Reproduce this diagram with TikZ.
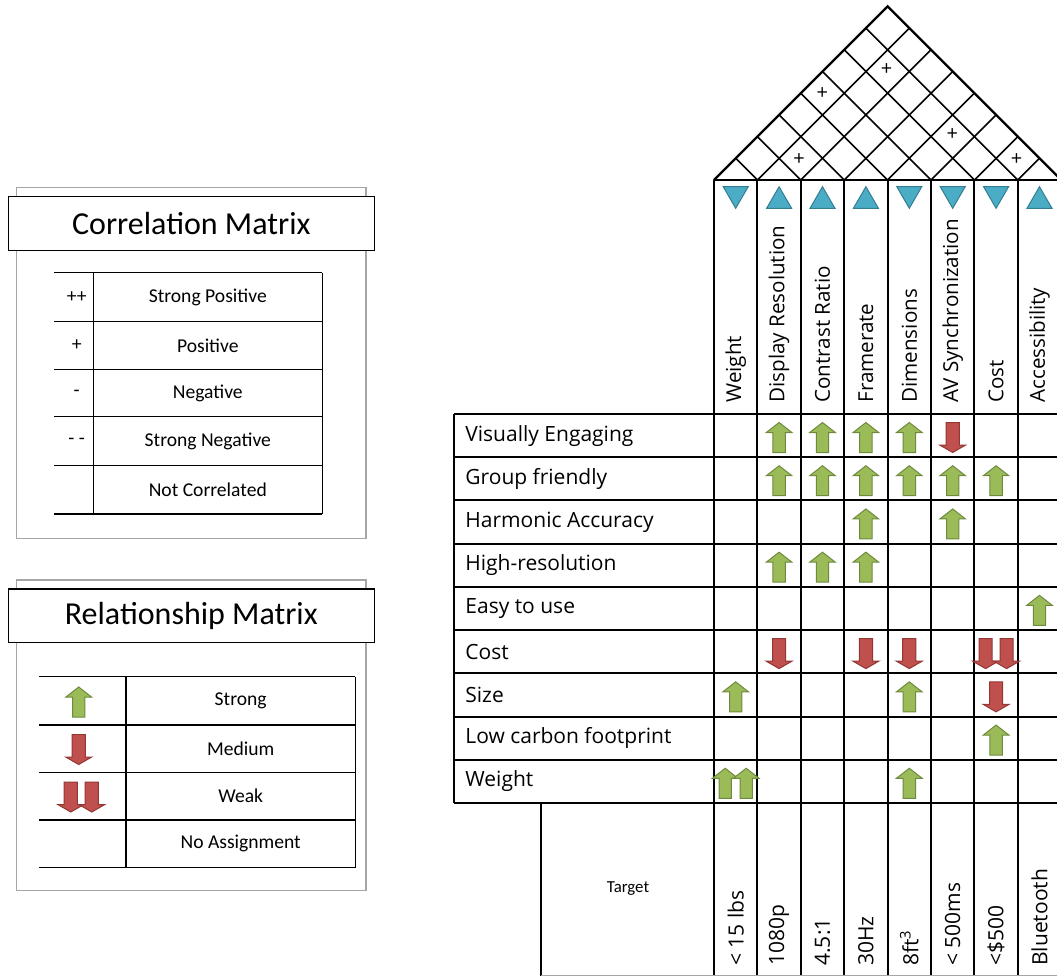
\documentclass[tikz,border=0pt]{standalone}
\usepackage{fontspec}
\setmainfont{Open Sans}
\newfontfamily\legfont{Carlito}
\usetikzlibrary{positioning}
\definecolor{qblue}{HTML}{4BACC6}
\definecolor{qblueline}{HTML}{357D91}
\definecolor{qgreen}{HTML}{9BBB59}
\definecolor{qgreenline}{HTML}{6E8B3D}
\definecolor{qred}{HTML}{C0504D}
\definecolor{qredline}{HTML}{943634}
\definecolor{framegray}{HTML}{A6A6A6}
\tikzset{
	grid/.style={draw=black, line width=1pt},
	roof/.style={draw=black, line width=0.8pt},
	legline/.style={draw=black, line width=0.6pt},
	outerbox/.style={draw=framegray, line width=0.7pt},
	titlebox/.style={draw=black, fill=white, line width=0.7pt},
	rowlabel/.style={anchor=west, inner sep=0, font=\fontsize{10.5}{12}\selectfont},
	collabel/.style={anchor=west, rotate=90, inner sep=0, font=\fontsize{10.3}{12}\selectfont},
	target/.style={anchor=west, rotate=90, inner sep=0, font=\fontsize{10.5}{12}\selectfont},
	corr/.style={font=\fontsize{10}{11}\selectfont, inner sep=0},
	legtitle/.style={font=\legfont\fontsize{16}{19}\selectfont},
	legentry/.style={font=\legfont\fontsize{9.8}{11}\selectfont},
	strong/.pic={\draw[draw=qgreenline, fill=qgreen, line width=0.5pt]
		(0,-15) -- (12.8,-5) -- (6.2,-5) -- (6.2,15) -- (-6.2,15) -- (-6.2,-5) -- (-12.8,-5) -- cycle;},
	medium/.pic={\draw[draw=qredline, fill=qred, line width=0.5pt]
		(0,15) -- (13,7.5) -- (6.6,7.5) -- (6.6,-15) -- (-6.6,-15) -- (-6.6,7.5) -- (-13,7.5) -- cycle;},
	weak/.pic={\pic at (-10.5,0) {medium}; \pic at (10.5,0) {medium};},
	strongpair/.pic={\pic at (-10.5,0) {strong}; \pic at (10.5,0) {strong};},
	better/.pic={\draw[draw=qblueline, fill=qblue, line width=0.5pt] (0,-10.8) -- (12.5,10.8) -- (-12.5,10.8) -- cycle;},
	lower/.pic={\draw[draw=qblueline, fill=qblue, line width=0.5pt] (0,10.8) -- (12.5,-10.8) -- (-12.5,-10.8) -- cycle;}
}
\begin{document}
\begin{tikzpicture}[x=0.5pt, y=-0.5pt]
	\clip (0,0) rectangle (1057,976);

	%%% correlation legend
	\draw[outerbox] (16.7,187.3) rectangle (366,538.3);
	\draw[titlebox] (8.3,196.7) rectangle (374.3,250.7);
	\node[legtitle] (corrtitle) at (191.3,223.7) {Correlation Matrix};
	\foreach \y in {272.7,321.7,369.3,416.7,465.7,514} \draw[legline] (54.3,\y) -- (322.3,\y);
	\draw[legline] (93.3,272.7) -- (93.3,514);
	\draw[legline] (322.3,272.7) -- (322.3,514);
	\node[legentry] (cpp) at (76.7,297.2) {++};
	\node[legentry] (cp) at (76.7,345.5) {+};
	\node[legentry] (cm) at (76.7,393) {-};
	\node[legentry] (cmm) at (76.7,441.2) {- -};
	\node[legentry] (cpptext) at (207.8,297.2) {Strong Positive};
	\node[legentry] (cptext) at (207.8,345.5) {Positive};
	\node[legentry] (cmtext) at (207.8,393) {Negative};
	\node[legentry] (cmmtext) at (207.8,441.2) {Strong Negative};
	\node[legentry] (cnotext) at (207.8,489.8) {Not Correlated};

	%%% relationship legend
	\draw[outerbox] (16.7,580) rectangle (366,890.7);
	\draw[titlebox] (8.3,589) rectangle (374.3,642.7);
	\node[legtitle] (reltitle) at (191.3,615.8) {Relationship Matrix};
	\foreach \y in {676.7,725,772.3,820,867.7} \draw[legline] (39,\y) -- (355.3,\y);
	\draw[legline] (126,676.7) -- (126,867.7);
	\draw[legline] (355.3,676.7) -- (355.3,867.7);
	\pic at (78.7,702) {strong};
	\pic at (78.7,749.5) {medium};
	\pic at (81.3,797) {weak};
	\node[legentry] (rstext) at (240.7,700.8) {Strong};
	\node[legentry] (rmtext) at (240.7,748.7) {Medium};
	\node[legentry] (rwtext) at (240.7,796.2) {Weak};
	\node[legentry] (rntext) at (240.7,843.8) {No Assignment};

	%%% roof
	\draw[grid, line width=1.2pt] (714,180) -- (887.6,6.4) -- (1061.2,180);
	\foreach \i in {1,...,7} {
		\pgfmathsetmacro\bx{714+43.4*\i}
		\draw[roof] (\bx,180) -- ({(714+\bx)/2},{180-(\bx-714)/2});
		\draw[roof] (\bx,180) -- ({(\bx+1061.2)/2},{180-(1061.2-\bx)/2});
	}
	\node[corr] (p12) at (799,159.3) {+};
	\node[corr] (p04) at (822.3,93.3) {+};
	\node[corr] (p16) at (886.7,70) {+};
	\node[corr] (p46) at (952.3,135) {+};
	\node[corr] (p67) at (1016.7,159.3) {+};

	%%% matrix grid
	\draw[grid] (714,180) -- (1061.2,180);
	\foreach \j in {0,...,9} \draw[grid] (454,{414+43.22*\j}) -- (1061.2,{414+43.22*\j});
	\draw[grid] (454,414) -- (454,803);
	\foreach \i in {0,...,8} \draw[grid] ({714+43.4*\i},180) -- ({714+43.4*\i},976);
	\draw[grid] (541,803) -- (541,976);
	\draw[draw=framegray, line width=0.5pt] (541,975.5) -- (1061.2,975.5);

	\foreach \i in {0,...,7} \coordinate (c\i) at ({735.7+43.4*\i},0);
	\foreach \j in {0,...,8} \coordinate (r\j) at (0,{437.5+43.22*\j});

	%%% direction of improvement
	\pic at (735.7,197.5) {lower};
	\pic at (779.1,197.5) {better};
	\pic at (822.5,197.5) {better};
	\pic at (865.9,197.5) {better};
	\pic at (909.3,197.5) {lower};
	\pic at (952.7,197.5) {lower};
	\pic at (996.1,197.5) {lower};
	\pic at (1039.5,197.5) {better};

	%%% engineering characteristics
	\node[collabel] (hweight) at (735.7,403) {Weight};
	\node[collabel] (hres) at (779.1,403) {Display Resolution};
	\node[collabel] (hcontrast) at (822.5,403) {Contrast Ratio};
	\node[collabel] (hframe) at (865.9,403) {Framerate};
	\node[collabel] (hdim) at (909.3,403) {Dimensions};
	\node[collabel] (hav) at (952.7,403) {AV Synchronization};
	\node[collabel] (hcost) at (996.1,403) {Cost};
	\node[collabel] (hacc) at (1039.5,403) {Accessibility};

	%%% customer requirements
	\node[rowlabel] (qvis) at (465,435.6) {Visually Engaging};
	\node[rowlabel] (qgroup) at (465,478.8) {Group friendly};
	\node[rowlabel] (qharm) at (465,522.1) {Harmonic Accuracy};
	\node[rowlabel] (qhigh) at (465,565.3) {High-resolution};
	\node[rowlabel] (qeasy) at (465,608.5) {Easy to use};
	\node[rowlabel] (qcost) at (465,651.7) {Cost};
	\node[rowlabel] (qsize) at (465,694.9) {Size};
	\node[rowlabel] (qcarbon) at (465,738.1) {Low carbon footprint};
	\node[rowlabel] (qweight) at (465,781.4) {Weight};

	%%% relationships
	\pic at (c1 |- r0) {strong};
	\pic at (c2 |- r0) {strong};
	\pic at (c3 |- r0) {strong};
	\pic at (c4 |- r0) {strong};
	\pic at (c5 |- r0) {medium};
	\pic at (c1 |- r1) {strong};
	\pic at (c2 |- r1) {strong};
	\pic at (c3 |- r1) {strong};
	\pic at (c4 |- r1) {strong};
	\pic at (c5 |- r1) {strong};
	\pic at (c6 |- r1) {strong};
	\pic at (c3 |- r2) {strong};
	\pic at (c5 |- r2) {strong};
	\pic at (c1 |- r3) {strong};
	\pic at (c2 |- r3) {strong};
	\pic at (c3 |- r3) {strong};
	\pic at (c7 |- r4) {strong};
	\pic at (c1 |- r5) {medium};
	\pic at (c3 |- r5) {medium};
	\pic at (c4 |- r5) {medium};
	\pic at (c6 |- r5) {weak};
	\pic at (c0 |- r6) {strong};
	\pic at (c4 |- r6) {strong};
	\pic at (c6 |- r6) {medium};
	\pic at (c6 |- r7) {strong};
	\pic at (c0 |- r8) {strongpair};
	\pic at (c4 |- r8) {strong};

	%%% targets
	\node[legentry, font=\legfont\fontsize{8.4}{10}\selectfont] (target) at (628,889) {Target};
	\node[target] (tweight) at (735.7,966) {< 15 lbs};
	\node[target] (tres) at (779.1,966) {1080p};
	\node[target] (tcontrast) at (822.5,966) {4.5:1};
	\node[target] (tframe) at (865.9,966) {30Hz};
	\node[target] (tdim) at (909.3,966) {8ft\textsuperscript{3}};
	\node[target] (tav) at (952.7,966) {< 500ms};
	\node[target] (tcost) at (996.1,966) {<\$500};
	\node[target] (tacc) at (1039.5,966) {Bluetooth};
\end{tikzpicture}
\end{document}
